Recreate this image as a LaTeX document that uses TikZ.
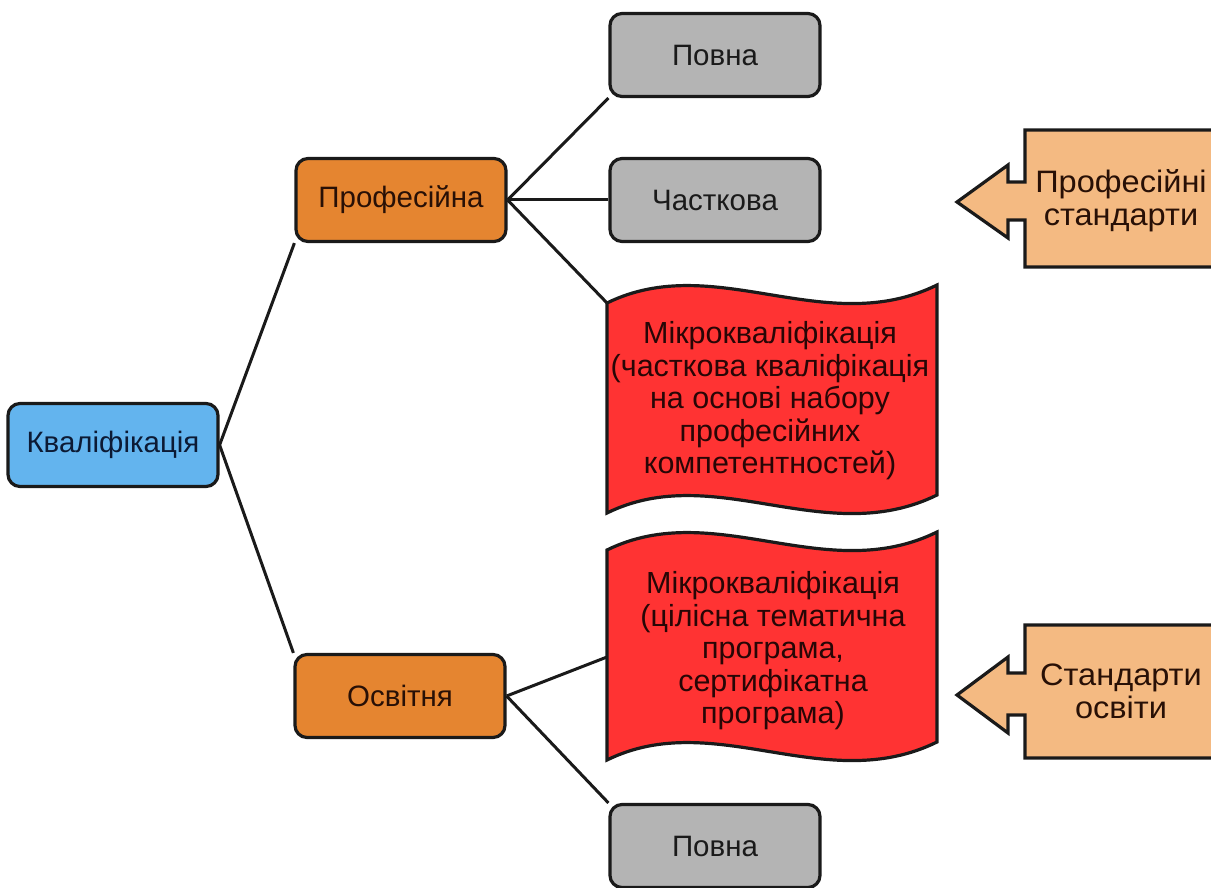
\documentclass[tikz,border=0pt]{standalone}
\usepackage{fontspec}
\setmainfont{Liberation Sans}
\pgfdeclarelayer{background}
\pgfsetlayers{background,main}
\definecolor{kblue}{RGB}{99,180,238}
\definecolor{korange}{RGB}{229,133,48}
\definecolor{kgrey}{RGB}{180,180,180}
\definecolor{kred}{RGB}{255,51,51}
\definecolor{ktan}{RGB}{244,186,130}
\definecolor{kline}{RGB}{26,26,26}
\definecolor{ktxtblue}{RGB}{12,26,52}
\definecolor{ktxtbrown}{RGB}{40,16,6}
\definecolor{ktxtred}{RGB}{40,6,6}
\tikzset{
  bigfont/.style={font=\fontsize{29.5}{32.5}\selectfont},
  boxnode/.style={draw=kline, line width=3.2pt, rounded corners=12pt,
    minimum width=210pt, minimum height=83pt, inner sep=0pt, bigfont},
  bluebox/.style={boxnode, fill=kblue, text=ktxtblue},
  orangebox/.style={boxnode, fill=korange, text=ktxtbrown},
  greybox/.style={boxnode, fill=kgrey, text=kline},
  shapeborder/.style={draw=kline, line width=3.2pt, line join=miter},
  connector/.style={draw=kline, line width=3pt},
  wavetext/.style={font=\fontsize{30.5}{32.5}\selectfont, align=center, inner sep=0pt, text=ktxtred},
  tantext/.style={font=\fontsize{31}{33}\selectfont, align=center, inner sep=0pt, text=ktxtbrown, xscale=1.05}
}
\begin{document}
\begin{tikzpicture}[x=1pt,y=-1pt]
\useasboundingbox (0,0) rectangle (1211,888);
\clip (0,0) rectangle (1211,888);

% nodes
\node[bluebox]   (kval)   at (113,445) {Кваліфікація};
\node[orangebox] (prof)   at (401,200) {Професійна};
\node[orangebox] (osv)    at (400,696) {Освітня};
\node[greybox]   (povna1) at (715,55)  {Повна};
\node[greybox]   (chast)  at (715,200) {Часткова};
\node[greybox]   (povna2) at (715,846) {Повна};

% wave 1
\coordinate (w1tl) at (607,303);
\draw[shapeborder, fill=kred]
  (w1tl) .. controls (715,250) and (825,340) .. (937,285)
  -- (937,495) .. controls (825,550) and (715,460) .. (607,513) -- cycle;
\node[wavetext] (w1text) at (770,401) {Мікрокваліфікація\\(часткова кваліфікація\\на основі набору\\професійних\\компетентностей)};

% wave 2
\coordinate (w2l) at (607,657);
\draw[shapeborder, fill=kred]
  (607,550) .. controls (715,497) and (825,587) .. (937,532)
  -- (937,742) .. controls (825,797) and (715,707) .. (607,760) -- cycle;
\node[wavetext] (w2text) at (773,651) {Мікрокваліфікація\\(цілісна тематична\\програма,\\сертифікатна\\програма)};

% tan arrow 1
\draw[shapeborder, fill=ktan]
  (1230,130) -- (1025,130) -- (1025,182) -- (1008,182) -- (1008,165)
  -- (957,202) -- (1008,238) -- (1008,220) -- (1025,220) -- (1025,267)
  -- (1230,267);
\node[tantext] (std1) at (1121,201) {Професійні\\стандарти};

% tan arrow 2
\draw[shapeborder, fill=ktan]
  (1230,625) -- (1025,625) -- (1025,673) -- (1008,673) -- (1008,657)
  -- (957,695) -- (1008,733) -- (1008,715) -- (1025,715) -- (1025,758)
  -- (1230,758);
\node[tantext] (std2) at (1121,691) {Стандарти\\освіти};

% connectors
\begin{pgfonlayer}{background}
\draw[connector] (kval.east) -- (prof.south west);
\draw[connector] (kval.east) -- (osv.north west);
\draw[connector] (prof.east) -- (povna1.south west);
\draw[connector] (prof.east) -- (chast.west);
\draw[connector] (prof.east) -- (w1tl);
\draw[connector] (osv.east) -- (w2l);
\draw[connector] (osv.east) -- (povna2.north west);
\end{pgfonlayer}
\end{tikzpicture}
\end{document}
